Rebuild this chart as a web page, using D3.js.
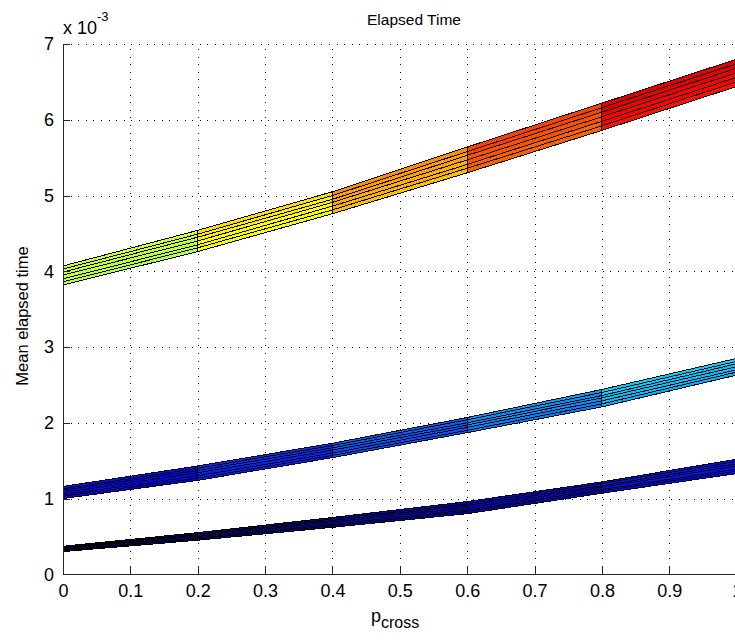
<!DOCTYPE html>
<html>
<head>
<meta charset="utf-8">
<script src="https://cdn.jsdelivr.net/npm/d3@7/dist/d3.min.js"></script>
<style>
  body { margin: 0; background: #fff; }
  svg { display: block; font-family: "Liberation Sans", Arial, Helvetica, sans-serif; }
</style>
</head>
<body>
<svg id="chart" width="735" height="640"></svg>
<script>
// Crossover probability grid (surface columns)
const pCross = [0, 0.2, 0.4, 0.6, 0.8, 1.0];

// Mean elapsed time, in units of 10^-3; each band is a surface whose rows
// follow the hidden second parameter.
const upperBandRows = [
  [3.82, 4.26, 4.76, 5.30, 5.86, 6.44],
  [3.86, 4.31, 4.81, 5.36, 5.92, 6.50],
  [3.90, 4.35, 4.86, 5.41, 5.98, 6.56],
  [3.95, 4.40, 4.91, 5.47, 6.04, 6.62],
  [3.99, 4.45, 4.95, 5.53, 6.10, 6.68],
  [4.03, 4.49, 5.00, 5.58, 6.16, 6.74],
  [4.07, 4.54, 5.05, 5.64, 6.22, 6.80]
];
const middleBandRows = [
  [1.00, 1.24, 1.54, 1.87, 2.21, 2.63],
  [1.03, 1.27, 1.57, 1.90, 2.25, 2.67],
  [1.05, 1.30, 1.60, 1.94, 2.29, 2.70],
  [1.08, 1.34, 1.64, 1.97, 2.33, 2.74],
  [1.11, 1.37, 1.67, 2.00, 2.36, 2.78],
  [1.13, 1.40, 1.70, 2.04, 2.40, 2.81],
  [1.16, 1.43, 1.73, 2.07, 2.44, 2.85]
];
const lowerBandRows = [
  [0.30, 0.45, 0.62, 0.80, 1.07, 1.33],
  [0.31, 0.47, 0.64, 0.83, 1.10, 1.36],
  [0.32, 0.48, 0.66, 0.85, 1.12, 1.39],
  [0.34, 0.50, 0.69, 0.88, 1.15, 1.43],
  [0.35, 0.52, 0.71, 0.91, 1.17, 1.46],
  [0.36, 0.53, 0.73, 0.93, 1.20, 1.49],
  [0.37, 0.55, 0.75, 0.96, 1.22, 1.52]
];

const xTicks = [0, 0.1, 0.2, 0.3, 0.4, 0.5, 0.6, 0.7, 0.8, 0.9, 1];
const xTickLabels = ["0", "0.1", "0.2", "0.3", "0.4", "0.5", "0.6", "0.7", "0.8", "0.9", "1"];
const yTicks = [0, 1, 2, 3, 4, 5, 6, 7];
const yTickLabels = ["0", "1", "2", "3", "4", "5", "6", "7"];

const titleText = "Elapsed Time";
const yLabelText = "Mean elapsed time";
const xLabelMain = "p";
const xLabelSub = "cross";

// ---------------------------------------------------------------------------
const svg = d3.select("#chart");
const plot = { left: 63, right: 736.7, top: 44, bottom: 574.3 };

const x = d3.scaleLinear().domain([0, 1]).range([plot.left, plot.right]);
const y = d3.scaleLinear().domain([0, 7]).range([plot.bottom, plot.top]);

// 64-entry jet colormap
function jetColor(k) { // k: 1..64
  const u = i => (i < 1 || i > 47) ? 0 : (i <= 16 ? i / 16 : (i <= 31 ? 1 : (48 - i) / 16));
  const r = u(k - 24), g = u(k - 8), b = u(k + 8);
  return d3.rgb(Math.round(r * 255), Math.round(g * 255), Math.round(b * 255)).toString();
}
const bands = [lowerBandRows, middleBandRows, upperBandRows];
const allValues = bands.flat(2);
const cMin = d3.min(allValues), cMax = d3.max(allValues);
function colorFor(v) {
  let k = Math.floor((v - cMin) / (cMax - cMin) * 64) + 1;
  k = Math.max(1, Math.min(64, k));
  return jetColor(k);
}

// Dotted grid
const grid = svg.append("g").attr("stroke", "#000").attr("stroke-width", 1)
  .attr("stroke-dasharray", "1,6.6").attr("shape-rendering", "crispEdges");
grid.selectAll("line.vx").data(xTicks.filter(d => d > 0)).join("line")
  .attr("x1", d => Math.round(x(d)) + 0.5).attr("x2", d => Math.round(x(d)) + 0.5)
  .attr("y1", plot.bottom).attr("y2", plot.top);
grid.selectAll("line.hy").data(yTicks.filter(d => d > 0)).join("line")
  .attr("y1", d => Math.round(y(d)) + 0.5).attr("y2", d => Math.round(y(d)) + 0.5)
  .attr("x1", plot.left).attr("x2", plot.right);

// Surfaces: flat-shaded quads with black mesh edges
const surf = svg.append("g").attr("shape-rendering", "crispEdges");
bands.forEach(rows => {
  const quads = [];
  for (let j = 0; j < rows.length - 1; j++) {
    for (let i = 0; i < pCross.length - 1; i++) {
      quads.push({
        pts: [
          [x(pCross[i]), y(rows[j][i])],
          [x(pCross[i + 1]), y(rows[j][i + 1])],
          [x(pCross[i + 1]), y(rows[j + 1][i + 1])],
          [x(pCross[i]), y(rows[j + 1][i])]
        ],
        c: colorFor(rows[j][i])
      });
    }
  }
  surf.append("g").selectAll("polygon").data(quads).join("polygon")
    .attr("points", d => d.pts.map(p => p.join(",")).join(" "))
    .attr("fill", d => d.c)
    .attr("stroke", "#000")
    .attr("stroke-width", 1);
});

// Axes
const fmtX = d => xTickLabels[xTicks.indexOf(d)];
const fmtY = d => yTickLabels[yTicks.indexOf(d)];

const xAxis = svg.append("g")
  .attr("transform", `translate(0,${plot.bottom})`)
  .call(d3.axisBottom(x).tickValues(xTicks).tickFormat(fmtX).tickSizeInner(-8).tickSizeOuter(0).tickPadding(10));
const yAxis = svg.append("g")
  .attr("transform", `translate(${plot.left},0)`)
  .call(d3.axisLeft(y).tickValues(yTicks).tickFormat(fmtY).tickSizeInner(-7).tickSizeOuter(0).tickPadding(9));

[xAxis, yAxis].forEach(g => {
  g.selectAll("path.domain").attr("stroke", "#262626").attr("shape-rendering", "crispEdges");
  g.selectAll(".tick line").attr("stroke", "#262626").attr("shape-rendering", "crispEdges");
  g.selectAll(".tick text").attr("fill", "#000").attr("font-size", 18)
    .attr("font-family", "'Liberation Sans', Arial, sans-serif");
});

// Exponent label
const expo = svg.append("text").attr("x", 63).attr("y", 34)
  .attr("font-size", 18).attr("fill", "#000");
expo.append("tspan").text("x 10");
expo.append("tspan").attr("font-size", 13).attr("dy", -13).text("-3");

// Title
svg.append("text").attr("x", 414).attr("y", 25).attr("text-anchor", "middle")
  .attr("font-size", 15.5).attr("fill", "#000").text(titleText);

// Y label
svg.append("text").attr("transform", "translate(28,316) rotate(-90)")
  .attr("text-anchor", "middle").attr("font-size", 16.5).attr("fill", "#000").text(yLabelText);

// X label with subscript
const xl = svg.append("text").attr("x", 371).attr("y", 622).attr("font-size", 18).attr("fill", "#000");
xl.append("tspan").text(xLabelMain);
xl.append("tspan").attr("font-size", 16).attr("dy", 6).text(xLabelSub);
</script>
</body>
</html>
